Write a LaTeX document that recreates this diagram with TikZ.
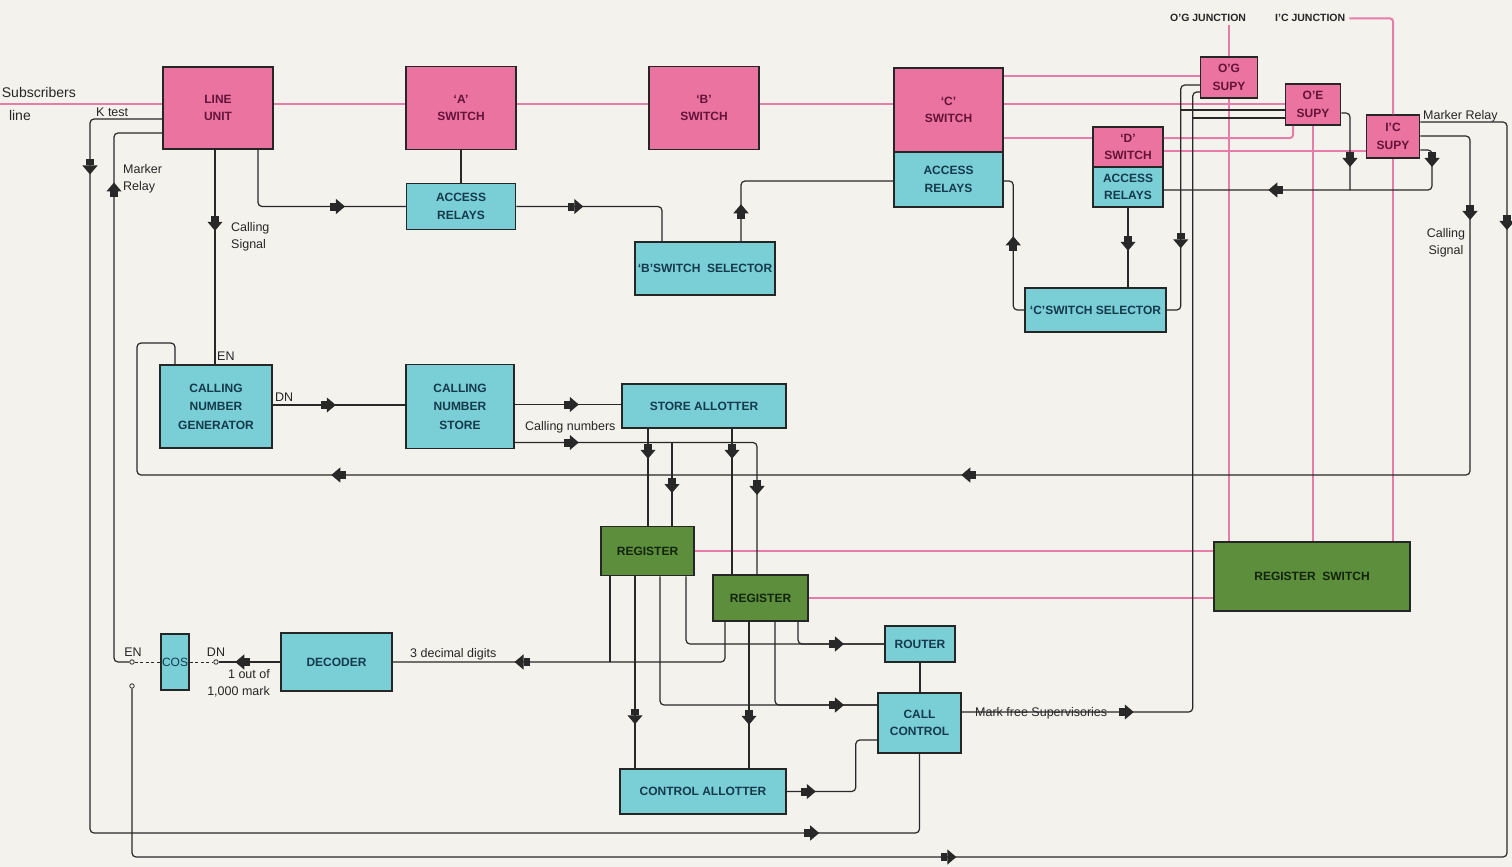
\documentclass[tikz,border=0pt]{standalone}
\usepackage{fontspec}
\setmainfont{Liberation Sans}
\usetikzlibrary{positioning, arrows.meta, decorations.markings}

\definecolor{paper}{RGB}{243,242,237}
\definecolor{pinkfill}{RGB}{234,115,160}
\definecolor{pinktext}{RGB}{100,20,55}
\definecolor{cyanfill}{RGB}{122,206,214}
\definecolor{cyantext}{RGB}{20,58,76}
\definecolor{greenfill}{RGB}{92,142,60}
\definecolor{greentext}{RGB}{18,36,12}
\definecolor{pinkline}{RGB}{228,125,168}
\definecolor{wireblack}{RGB}{40,40,40}

\tikzset{
  fwd/.style={postaction={decorate, decoration={markings,
    mark=at position #1 with {\arrow{Square[width=8pt,length=6pt] Triangle[width=15pt,length=9pt]}}}}},
  bwd/.style={postaction={decorate, decoration={markings,
    mark=at position #1 with {\arrowreversed{Square[width=8pt,length=6pt] Triangle[width=15pt,length=9pt]}}}}}
}

\begin{document}
\begin{tikzpicture}[x=1pt, y=-1pt, node distance=243pt, font=\bfseries\fontsize{12}{17.5}\selectfont]
\tikzstyle{switchbox} = [rectangle, draw=black!85, line width=1.5pt, fill=pinkfill, text=pinktext, align=center, inner sep=1pt]
\tikzstyle{relaybox} = [switchbox, fill=cyanfill, text=cyantext]
\tikzstyle{regbox} = [switchbox, fill=greenfill, text=greentext]
\tikzstyle{note} = [font=\fontsize{12.5}{17}\selectfont, text=black!85, align=left, inner sep=0pt]
\tikzstyle{junction} = [note, font=\bfseries\fontsize{10.5}{12}\selectfont]
\tikzstyle{wire} = [draw=wireblack, line width=1.2pt, rounded corners=4pt]
\tikzstyle{pinkwire} = [draw=pinkline, line width=2pt, rounded corners=3pt]
\tikzstyle{dashwire} = [draw=wireblack, line width=1pt, dash pattern=on 3pt off 2.5pt]
\tikzstyle{terminal} = [circle, draw=wireblack, fill=paper, line width=0.8pt, inner sep=0pt, minimum size=4.5pt]

\useasboundingbox (0,0) rectangle (1512,867);
\fill [paper] (0,0) rectangle (1512,867);

% Nodes
\node (lu) [switchbox, minimum width=110pt, minimum height=82pt] at (218,108) {LINE\\UNIT};
\node (swA) [switchbox, minimum width=110pt, minimum height=83pt, right of=lu] {‘A’\\SWITCH};
\node (swB) [switchbox, minimum width=110pt, minimum height=83pt, right of=swA] {‘B’\\SWITCH};
\node (swC) [switchbox, minimum width=109pt, minimum height=84pt, right of=swB, xshift=1.5pt, yshift=-2pt] {‘C’\\SWITCH};
\node (arC) [relaybox, minimum width=109pt, minimum height=55pt, below=-1.5pt of swC] {ACCESS\\RELAYS};
\node (swD) [switchbox, minimum width=70pt, minimum height=40pt, inner sep=0pt] at (1128,147) {‘D’\\SWITCH};
\node (arD) [relaybox, minimum width=70pt, minimum height=40pt, inner sep=0pt, below=-1.5pt of swD] {ACCESS\\RELAYS};
\node (og) [switchbox, minimum width=57pt, minimum height=41pt] at (1229,77.5) {O’G\\SUPY};
\node (oe) [switchbox, minimum width=55pt, minimum height=41pt] at (1313,104.5) {O’E\\SUPY};
\node (ic) [switchbox, minimum width=53pt, minimum height=43pt] at (1393,136.5) {I’C\\SUPY};
\node (arA) [relaybox, minimum width=109pt, minimum height=46pt, below of=swA, yshift=144.5pt] {ACCESS\\RELAYS};
\node (selB) [relaybox, minimum width=140pt, minimum height=53pt] at (705,268.5) {‘B’SWITCH\ \ SELECTOR};
\node (selC) [relaybox, minimum width=141pt, minimum height=44pt] at (1095.5,310) {‘C’SWITCH SELECTOR};
\node (cng) [relaybox, minimum width=112pt, minimum height=83pt, font=\bfseries\fontsize{12}{18.5}\selectfont] at (216,406.5) {CALLING\\NUMBER\\GENERATOR};
\node (cns) [relaybox, minimum width=108pt, minimum height=84pt, font=\bfseries\fontsize{12}{18.5}\selectfont, right of=cng, xshift=1pt] {CALLING\\NUMBER\\STORE};
\node (sta) [relaybox, minimum width=164pt, minimum height=44pt] at (704,406) {STORE ALLOTTER};
\node (reg1) [regbox, minimum width=93pt, minimum height=49pt] at (647.5,551) {REGISTER};
\node (reg2) [regbox, minimum width=95pt, minimum height=46pt] at (760.5,598) {REGISTER};
\node (rsw) [regbox, minimum width=196pt, minimum height=69pt] at (1312,576.5) {REGISTER\ \ SWITCH};
\node (rtr) [relaybox, minimum width=70pt, minimum height=36pt] at (920,644) {ROUTER};
\node (cc) [relaybox, minimum width=83pt, minimum height=60pt] at (919.5,723) {CALL\\CONTROL};
\node (ca) [relaybox, minimum width=166pt, minimum height=45pt] at (703,791.5) {CONTROL ALLOTTER};
\node (dec) [relaybox, minimum width=111pt, minimum height=58pt] at (336.5,662) {DECODER};
\node (cos) [relaybox, minimum width=28pt, minimum height=56pt, inner sep=0pt, font=\fontsize{12}{14}\selectfont] at (175,662) {COS};
\node (enT) [terminal] at (132,662) {};
\node (dnT) [terminal] at (216,662) {};
\node (cosT) [terminal] at (132,686) {};

% Corners and branch points
\coordinate (subs) at (0,104);
\coordinate (kt) at (90,833);
\coordinate (mr) at (114,662);
\coordinate (mr2) at (1507,857);
\coordinate (cs1) at (1470,475);
\coordinate (cs2) at (137,343);
\coordinate (jb) at (1350,190);
\coordinate (jc) at (1432,190);
\coordinate (ogb) at (1180,110);
\coordinate (mfb) at (1192,118);
\coordinate (cnb) at (672,443);

% Labels
\node (subsT) [note, font=\fontsize{14}{17}\selectfont, anchor=base east] at (76,97) {Subscribers};
\node (lineT) [note, font=\fontsize{14}{17}\selectfont, anchor=base east] at (31,120) {line};
\node (ktT) [note, anchor=base west] at (96,116) {K test};
\node (mrT) [note, anchor=north west] at (123,164) {Marker\\Relay};
\node (csT) [note, anchor=north west] at (231,222) {Calling\\Signal};
\node (enL) [note, anchor=base west] at (217,360) {EN};
\node (dnL) [note, anchor=base west] at (275,401) {DN};
\node (cnT) [note, anchor=base west] at (525,430) {Calling numbers};
\node (ddT) [note, anchor=base west] at (410,657) {3 decimal digits};
\node (omT) [note, anchor=north east, align=right] at (270,669) {1 out of\\1,000 mark};
\node (enC) [note, anchor=base] at (133,656) {EN};
\node (dnC) [note, anchor=base] at (216,656) {DN};
\node (mfT) [note, anchor=base west] at (975,716) {Mark free Supervisories};
\node (cs2T) [note, anchor=north, align=center] at (1446,228) {Calling\\Signal};
\node (mr2T) [note, anchor=base west] at (1423,119) {Marker Relay};
\node (ogj) [junction, anchor=base west] at (1170,22) {O’G JUNCTION};
\node (icj) [junction, anchor=base west] at (1275,22) {I’C JUNCTION};

% Speech path (pink)
\draw [pinkwire] (subs) -- ([yshift=4pt]lu.west);
\draw [pinkwire] ([yshift=4pt]lu.east) -- ([yshift=4pt]swA.west);
\draw [pinkwire] ([yshift=4pt]swA.east) -- ([yshift=4pt]swB.west);
\draw [pinkwire] ([yshift=4pt]swB.east) -- ([yshift=6pt]swC.west);
\draw [pinkwire] ([yshift=34pt]swC.east) -- ([yshift=34pt]swC.east -| og.west);
\draw [pinkwire] ([yshift=6pt]swC.east) -- ([yshift=6pt]swC.east -| oe.west);
\draw [pinkwire] ([yshift=-28pt]swC.east) -- ([yshift=-28pt]swC.east -| swD.west);
\draw [pinkwire] ([yshift=9pt]swD.east) -| ([xshift=-20pt]oe.south);
\draw [pinkwire] ([yshift=-4pt]swD.east) -- ([yshift=-4pt]swD.east -| ic.west);
\draw [pinkwire] ([yshift=-3pt]ogj.south -| og.north) -- (og.north);
\draw [pinkwire] (og.south) -- (og.south |- rsw.north);
\draw [pinkwire] ([xshift=4pt]icj.east) -| (ic.north);
\draw [pinkwire] (ic.south) -- (ic.south |- rsw.north);
\draw [pinkwire] (oe.south) -- (oe.south |- rsw.north);
\draw [pinkwire] (reg1.east) -- (reg1.east -| rsw.west);
\draw [pinkwire] (reg2.east) -- (reg2.east -| rsw.west);

% Arrows
\draw [wire, fwd=142pt] ([xshift=40pt]lu.south) |- (arA.west);
\draw [wire, fwd=81pt] ([xshift=-3pt]lu.south) -- ([xshift=-1pt]cng.north);
\draw [wire, fwd=126pt, fwd=1512pt] ([yshift=-11pt]lu.west) -| (kt) -| (cc.south);
\draw [wire, bwd=96pt] ([yshift=-25pt]lu.west) -| (mr) -- (enT);
\draw [dashwire] (enT) -- (cos.west);
\draw [dashwire] (cos.east) -- (dnT);
\draw [wire, fwd=45pt] (dec.west) -- (dnT);
\draw [wire] (swA.south) -- (swA.south |- arA.north);
\draw [wire, fwd=67pt] (arA.east) -| ([xshift=-43pt]selB.north);
\draw [wire, fwd=37pt] ([xshift=36pt]selB.north) |- ([yshift=-1.5pt]arC.west);
\draw [wire, fwd=83pt] (selC.west) -- ++(-11,0) |- ([yshift=-1.5pt]arC.east);
\draw [wire, fwd=43pt] (arD.south) -- (arD.south |- selC.north);
\draw [wire, bwd=74pt] (selC.east) -- ++(14,0) |- ([yshift=-7.5pt]og.west);
\draw [wire] (ogb) -- (ogb -| oe.west);
\draw [wire, fwd=172pt] ([yshift=11pt]cc.east) -- ++(231,0) |- ([yshift=-14.5pt]og.west);
\draw [wire] (mfb) -- (mfb -| oe.west);
\draw [wire, fwd=61pt] ([yshift=-8.5pt]oe.east) -| (jb);
\draw [wire, fwd=27pt, fwd=212pt] ([yshift=-13.5pt]ic.east) -| (jc) -- (jc -| arD.east);
\draw [wire, fwd=132pt, fwd=894pt, fwd=1524pt] ([yshift=0.5pt]ic.east) -| (cs1) -| (cs2) -| ([xshift=-41pt]cng.north);
\draw [wire, fwd=193pt, bwd=1369pt] ([yshift=14.5pt]ic.east) -| (mr2) -| (cosT);
\draw [wire, fwd=63pt] ([yshift=1.5pt]cng.east) -- ([yshift=1.5pt]cng.east -| cns.west);
\draw [wire, fwd=64pt] ([yshift=2pt]cns.east) -- ([yshift=2pt]cns.east -| sta.west);
\draw [wire, fwd=64pt, fwd=293pt] ([yshift=-36pt]cns.east) -| ([xshift=-3.5pt]reg2.north);
\draw [wire, fwd=50pt] (cnb) -- (cnb |- reg1.north);
\draw [wire, fwd=30pt] ([xshift=-56pt]sta.south) -- ([xshift=-56pt]sta.south |- reg1.north);
\draw [wire, fwd=30pt] ([xshift=28pt]sta.south) -- ([xshift=28pt]sta.south |- reg2.north);
\draw [wire, fwd=249pt] ([xshift=-35.5pt]reg2.south) |- (dec.east);
\draw [wire] ([xshift=-37.5pt]reg1.south) -- ([xshift=-37.5pt]reg1.south |- dec.east);
\draw [wire, fwd=148pt] ([xshift=-12.5pt]reg1.south) -- ([xshift=-12.5pt]reg1.south |- ca.north);
\draw [wire, fwd=103pt] ([xshift=-11.5pt]reg2.south) -- ([xshift=-11.5pt]reg2.south |- ca.north);
\draw [wire, fwd=311pt] ([xshift=12.5pt]reg1.south) |- ([yshift=18pt]cc.west);
\draw [wire] ([xshift=14.5pt]reg2.south) |- ([yshift=18pt]cc.west);
\draw [wire, fwd=224pt] ([xshift=38.5pt]reg1.south) |- (rtr.west);
\draw [wire] ([xshift=37.5pt]reg2.south) |- (rtr.west);
\draw [wire] (rtr.south) -- (rtr.south |- cc.north);
\draw [wire, fwd=29pt] (ca.east) -- ++(69,0) |- ([yshift=-17pt]cc.west);

\end{tikzpicture}
\end{document}
